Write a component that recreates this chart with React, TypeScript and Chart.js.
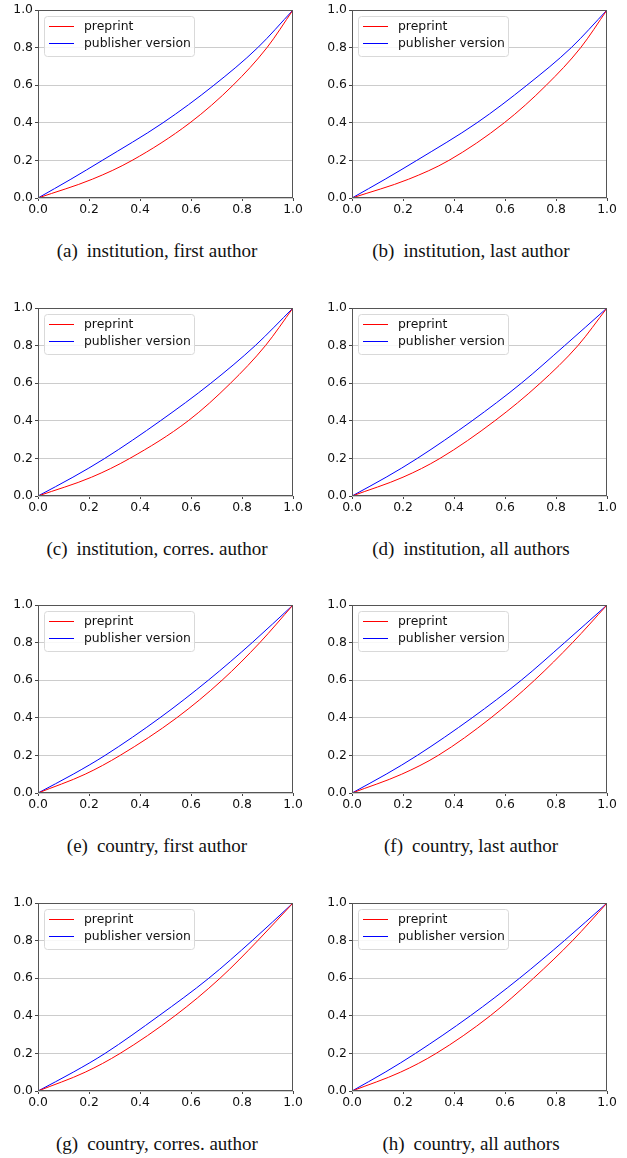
import React, { useEffect, useRef } from "react";
import { Chart, registerables } from "chart.js";

Chart.register(...registerables);

// ---------- data ----------
// y levels at which the x positions of each curve were read
const LEVELS = [0, 0.1, 0.2, 0.4, 0.6, 0.8, 1.0];
const X_TICKS = [0, 0.2, 0.4, 0.6, 0.8, 1.0];
const Y_TICKS = [0, 0.2, 0.4, 0.6, 0.8, 1.0];
const SERIES_LABELS = ["preprint", "publisher version"];
const SERIES_COLORS = ["#ff0000", "#0000ff"];

const PRE_A = [0, 0.213, 0.369, 0.596, 0.765, 0.898, 1];
const PUB_A = [0, 0.129, 0.252, 0.49, 0.69, 0.862, 1];
const PRE_B = [0, 0.222, 0.38, 0.597, 0.762, 0.897, 1];
const PUB_B = [0, 0.13, 0.254, 0.49, 0.686, 0.86, 1];
const PRE_C = [0, 0.21, 0.36, 0.589, 0.755, 0.892, 1];
const PUB_C = [0, 0.137, 0.262, 0.48, 0.678, 0.852, 1];
const PRE_D = [0, 0.2, 0.345, 0.56, 0.738, 0.886, 1];
const PUB_D = [0, 0.134, 0.256, 0.471, 0.664, 0.834, 1];
const PRE_E = [0, 0.185, 0.322, 0.544, 0.722, 0.87, 1];
const PUB_E = [0, 0.138, 0.263, 0.478, 0.668, 0.84, 1];
const PRE_F = [0, 0.195, 0.338, 0.545, 0.716, 0.865, 1];
const PUB_F = [0, 0.134, 0.256, 0.471, 0.664, 0.834, 1];
const PRE_G = [0, 0.185, 0.322, 0.537, 0.714, 0.862, 1];
const PUB_G = [0, 0.138, 0.263, 0.474, 0.67, 0.84, 1];
const PRE_H = [0, 0.19, 0.33, 0.542, 0.712, 0.865, 1];
const PUB_H = [0, 0.13, 0.249, 0.464, 0.657, 0.833, 1];

const PANEL_PRE = [PRE_A, PRE_B, PRE_C, PRE_D, PRE_E, PRE_F, PRE_G, PRE_H];
const PANEL_PUB = [PUB_A, PUB_B, PUB_C, PUB_D, PUB_E, PUB_F, PUB_G, PUB_H];

const CAPTION_TAGS = ["(a)", "(b)", "(c)", "(d)", "(e)", "(f)", "(g)", "(h)"];
const CAPTION_TEXTS = [
  "institution, first author",
  "institution, last author",
  "institution, corres. author",
  "institution, all authors",
  "country, first author",
  "country, last author",
  "country, corres. author",
  "country, all authors",
];

// ---------- layout ----------
const ROW_TOPS = [10, 308, 605, 903];
const COL_LEFTS = [0, 314];
const COL_WIDTH = 314;
const CANVAS_W = 308;
const CANVAS_H = 220;
const TICK_FONT = { family: "'DejaVu Sans', sans-serif", size: 12.4 };

const framePlugin = {
  id: "frameAndLegend",
  afterDraw(chart: any) {
    const { ctx, chartArea } = chart;
    const { left, top, right, bottom } = chartArea;
    ctx.save();
    // axes frame
    ctx.strokeStyle = "#555555";
    ctx.lineWidth = 1;
    ctx.strokeRect(
      Math.round(left) + 0.5,
      Math.round(top) + 0.5,
      Math.round(right) - Math.round(left) - 1,
      Math.round(bottom) - Math.round(top) - 1
    );
    // legend
    const bx = Math.round(left + 6) + 0.5;
    const by = Math.round(top + 6) + 0.5;
    const bw = 150;
    const bh = 40;
    ctx.beginPath();
    (ctx as any).roundRect(bx, by, bw, bh, 3);
    ctx.fillStyle = "rgba(255,255,255,0.85)";
    ctx.fill();
    ctx.strokeStyle = "#d9d9d9";
    ctx.stroke();
    chart.data.datasets.forEach((ds: any, i: number) => {
      const y = Math.round(top + 15.7 + i * 17.6) + 0.5;
      ctx.beginPath();
      ctx.moveTo(left + 11, y);
      ctx.lineTo(left + 36, y);
      ctx.strokeStyle = ds.borderColor;
      ctx.lineWidth = 1;
      ctx.stroke();
      ctx.fillStyle = "#111111";
      ctx.font = `${TICK_FONT.size}px ${TICK_FONT.family}`;
      ctx.textBaseline = "middle";
      ctx.textAlign = "left";
      ctx.fillText(ds.label, left + 46, y);
    });
    ctx.restore();
  },
};

function Panel({ index }: { index: number }) {
  const ref = useRef<HTMLCanvasElement | null>(null);
  useEffect(() => {
    if (!ref.current) return;
    const series = [PANEL_PRE[index], PANEL_PUB[index]];
    const chart = new Chart(ref.current, {
      type: "scatter",
      data: {
        datasets: series.map((xs, s) => ({
          label: SERIES_LABELS[s],
          data: xs.map((x, k) => ({ x, y: LEVELS[k] })),
          showLine: true,
          borderColor: SERIES_COLORS[s],
          backgroundColor: SERIES_COLORS[s],
          borderWidth: 1,
          pointRadius: 0,
          pointHoverRadius: 0,
          cubicInterpolationMode: "monotone",
          fill: false,
        })),
      },
      options: {
        animation: false,
        responsive: false,
        devicePixelRatio: 1,
        layout: { padding: { left: 0, top: 10, right: 15, bottom: 0 } },
        plugins: { legend: { display: false }, tooltip: { enabled: false } },
        events: [],
        scales: {
          x: {
            type: "linear",
            min: 0,
            max: 1,
            afterBuildTicks: (s: any) => {
              s.ticks = X_TICKS.map((v) => ({ value: v }));
            },
            afterFit: (s: any) => {
              s.height = 22;
            },
            ticks: {
              font: TICK_FONT,
              color: "#111111",
              padding: 1,
              maxRotation: 0,
              autoSkip: false,
              callback: (v: any) => Number(v).toFixed(1),
            },
            grid: {
              drawOnChartArea: false,
              drawTicks: true,
              tickLength: 3,
              tickColor: "#444444",
              color: "#444444",
            },
            border: { display: false },
          },
          y: {
            type: "linear",
            min: 0,
            max: 1,
            afterBuildTicks: (s: any) => {
              s.ticks = Y_TICKS.map((v) => ({ value: v }));
            },
            afterFit: (s: any) => {
              s.width = 38;
            },
            ticks: {
              font: TICK_FONT,
              color: "#111111",
              padding: 2,
              autoSkip: false,
              callback: (v: any) => Number(v).toFixed(1),
            },
            grid: {
              drawOnChartArea: true,
              drawTicks: true,
              tickLength: 3,
              tickColor: "#444444",
              color: "#cccccc",
              lineWidth: 1,
            },
            border: { display: false },
          },
        },
      },
      plugins: [framePlugin],
    } as any);
    return () => chart.destroy();
  }, [index]);

  const row = Math.floor(index / 2);
  const col = index % 2;
  const top = ROW_TOPS[row];
  return (
    <>
      <canvas
        ref={ref}
        width={CANVAS_W}
        height={CANVAS_H}
        style={{
          position: "absolute",
          left: COL_LEFTS[col],
          top: top - 10,
          width: CANVAS_W,
          height: CANVAS_H,
        }}
      />
      <div
        style={{
          position: "absolute",
          left: COL_LEFTS[col],
          top: top + 231,
          width: COL_WIDTH,
          textAlign: "center",
          fontFamily: "'Liberation Serif', serif",
          fontSize: 19,
          lineHeight: "20px",
          color: "#111111",
          whiteSpace: "nowrap",
        }}
      >
        <span style={{ marginRight: 9 }}>{CAPTION_TAGS[index]}</span>
        <span>{CAPTION_TEXTS[index]}</span>
      </div>
    </>
  );
}

export default function App() {
  return (
    <div
      style={{
        position: "absolute",
        left: 0,
        top: 0,
        width: 627,
        height: 1158,
        background: "#ffffff",
        overflow: "hidden",
      }}
    >
      {CAPTION_TEXTS.map((_, i) => (
        <Panel key={i} index={i} />
      ))}
    </div>
  );
}
